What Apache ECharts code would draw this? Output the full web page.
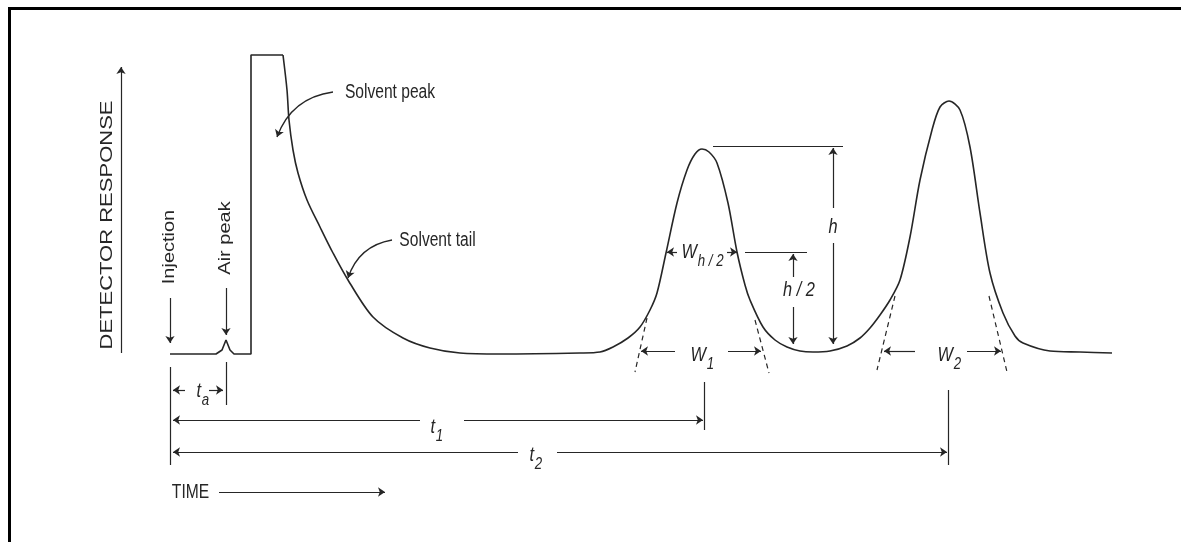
<!DOCTYPE html>
<html>
<head>
<meta charset="utf-8">
<script src="https://cdn.jsdelivr.net/npm/echarts@6/dist/echarts.min.js"></script>
<style>
html, body { margin: 0; padding: 0; background: #fff; }
#chart { width: 1181px; height: 542px; }
</style>
</head>
<body>
<div id="chart"></div>
<script>
// detector trace, [time, response]
const injectionTrace = [[0, 0], [4.6, 0], [5.2, 0.4], [5.6, 1.4], [6.0, 0.4], [6.4, 0],
  [8.1, 0], [8.1, 29.9], [11.3, 29.9]]
const elutionTrace = [[11.3, 29.9], [11.7, 26.4], [11.9, 23.4], [12.3, 20.4], [12.8, 18.1],
  [13.7, 15.4], [15.0, 12.7], [16.3, 10.1], [17.8, 7.4], [20.3, 3.7], [23.3, 1.6], [26, 0.6],
  [29, 0.1], [33, 0], [41, 0.1], [43, 0.2], [44.3, 0.7], [45.8, 1.6], [47, 2.7], [48, 4.4],
  [48.7, 6.1], [49.6, 10.1], [50.7, 15.1], [51.7, 18.4], [52.5, 20.0], [53.2, 20.5], [53.9, 20.2],
  [54.7, 19.1], [55.8, 15.1], [56.7, 10.2], [57.5, 6.9], [58, 5.4], [59.3, 2.7], [60.5, 1.4],
  [61.7, 0.7], [63, 0.3], [64.3, 0.2], [66, 0.3], [67.7, 0.8], [69, 1.6], [70, 2.6], [71, 3.9],
  [72, 5.4], [73, 7.4], [74, 11.7], [75, 17.4], [76.2, 22.4], [77, 24.7], [77.9, 25.3], [79, 24.4],
  [80, 20.7], [81, 14.1], [82, 8.1], [83.3, 4.1], [84.5, 1.8], [85.3, 1.1], [88, 0.3],
  [91, 0.2], [94.2, 0.1]]

// dimension lines with an arrow head at the end
const arrowSegments = [
  [[-4.9, 0.1], [-4.9, 28.7]],     // response axis
  [[4.9, -13.8], [21.5, -13.8]],   // time axis
  [[0, 5.6], [0, 1.1]],            // injection
  [[5.6, 6.6], [5.6, 1.9]],        // air peak
  [[1.5, -3.6], [0.3, -3.6]], [[3.9, -3.6], [5.3, -3.6]],      // ta
  [[25, -6.6], [0.3, -6.6]], [[29.4, -6.6], [53.3, -6.6]],     // t1
  [[34.8, -9.8], [0.3, -9.8]], [[38.7, -9.8], [77.7, -9.8]],   // t2
  [[66.3, 14.6], [66.3, 20.6]], [[66.3, 11.1], [66.3, 1.0]],   // h
  [[62.3, 7.7], [62.3, 10.0]], [[62.3, 4.7], [62.3, 1.0]],     // h/2
  [[50.7, 10.2], [49.7, 10.2]], [[55.7, 10.2], [56.7, 10.2]],  // W h/2
  [[50.5, 0.3], [47.1, 0.3]], [[55.8, 0.3], [59.1, 0.3]],      // W1
  [[74.5, 0.3], [71.4, 0.3]], [[79.7, 0.3], [83.1, 0.3]],      // W2
]
const plainSegments = [
  [[0, -1.3], [0, -11.1]],
  [[5.6, -0.8], [5.6, -5.1]],
  [[53.4, -2.8], [53.4, -7.6]],
  [[77.8, -3.6], [77.8, -11.1]],
  [[54.3, 20.8], [67.3, 20.8]],
  [[57.5, 10.2], [63.7, 10.2]],
]
const tangentSegments = [
  [[47.7, 3.6], [46.5, -1.8]], [[58.5, 3.4], [59.9, -1.9]],
  [[72.5, 5.8], [70.7, -1.6]], [[81.9, 5.8], [83.7, -1.8]],
]
const pointerCurves = [
  [[16.3, 26.2], [10.7, 21.7]],
  [[22.2, 11.4], [17.8, 7.6]],
]

// [text, time, response, rotate]
const captionNotes = [
  ['Solvent peak', 22.0, 26.2, 0],
  ['Solvent tail', 26.75, 11.4, 0],
  ['Injection', 0, 10.7, 90],
  ['Air peak', 5.6, 11.6, 90],
  ['DETECTOR RESPONSE', -6.3, 12.9, 90],
  ['TIME', 2.05, -13.8, 0],
]
// [symbol, subscript, time, response]
const symbolNotes = [
  ['h', '', 66.3, 12.7],
  ['h / 2', '', 62.9, 6.4],
  ['W', 'h / 2', 52.7, 10.2],
  ['W', '1', 53.6, -0.1],
  ['W', '2', 78.3, -0.1],
  ['t', 'a', 3.1, -3.7],
  ['t', '1', 26.5, -7.3],
  ['t', '2', 36.4, -10.1],
]

const ink = '#262626'
const squeeze = 0.78
const chart = echarts.init(document.getElementById('chart'))

chart.setOption({
  animation: false,
  backgroundColor: '#fff',
  grid: { left: 0, right: 0, top: 0, bottom: 0 },
  xAxis: { type: 'value', min: -17, max: 101.1, show: false },
  yAxis: { type: 'value', min: -18.8, max: 35.4, show: false },
  graphic: [
    { type: 'line', shape: { x1: 8, y1: 8.5, x2: 1181, y2: 8.5 }, style: { stroke: '#000', lineWidth: 3 } },
    { type: 'line', shape: { x1: 9.5, y1: 7, x2: 9.5, y2: 542 }, style: { stroke: '#000', lineWidth: 3 } },
  ],
  series: [
    {
      type: 'line',
      data: injectionTrace,
      showSymbol: false,
      lineStyle: { color: ink, width: 1.6 },
    },
    {
      type: 'line',
      data: elutionTrace,
      showSymbol: false,
      smooth: 0.3,
      lineStyle: { color: ink, width: 1.6 },
    },
    {
      type: 'lines',
      coordinateSystem: 'cartesian2d',
      symbol: ['none', 'arrow'],
      symbolSize: 7,
      lineStyle: { color: ink, width: 1.2, opacity: 1 },
      data: arrowSegments.map(c => ({ coords: c })),
    },
    {
      type: 'lines',
      coordinateSystem: 'cartesian2d',
      lineStyle: { color: ink, width: 1.2, opacity: 1 },
      data: plainSegments.map(c => ({ coords: c })),
    },
    {
      type: 'lines',
      coordinateSystem: 'cartesian2d',
      lineStyle: { color: ink, width: 1.2, opacity: 1, type: [5, 4] },
      data: tangentSegments.map(c => ({ coords: c })),
    },
    {
      type: 'lines',
      coordinateSystem: 'cartesian2d',
      symbol: ['none', 'arrow'],
      symbolSize: 7,
      lineStyle: { color: ink, width: 1.3, opacity: 1, curveness: -0.3 },
      data: pointerCurves.map(c => ({ coords: c })),
    },
    {
      type: 'custom',
      coordinateSystem: 'cartesian2d',
      data: captionNotes.map(n => [n[1], n[2]]),
      renderItem(params, api) {
        const note = captionNotes[params.dataIndex]
        const p = api.coord([api.value(0), api.value(1)])
        const upright = note[3] !== 0
        return {
          type: 'text',
          x: p[0],
          y: p[1],
          rotation: note[3] * Math.PI / 180,
          scaleX: upright ? 1 : squeeze,
          scaleY: upright ? squeeze : 1,
          style: {
            text: note[0],
            font: (note[0] === 'DETECTOR RESPONSE' ? 22 : 20) + 'px "Liberation Sans", Arial, sans-serif',
            fill: ink,
            align: 'center',
            verticalAlign: 'middle',
          },
        }
      },
    },
    {
      type: 'custom',
      coordinateSystem: 'cartesian2d',
      data: symbolNotes.map(n => [n[2], n[3]]),
      renderItem(params, api) {
        const note = symbolNotes[params.dataIndex]
        const p = api.coord([api.value(0), api.value(1)])
        const children = [{
          type: 'text',
          style: {
            text: note[0],
            font: 'italic 21px "Liberation Sans", Arial, sans-serif',
            fill: ink,
            align: note[1] ? 'right' : 'center',
            verticalAlign: 'middle',
          },
        }]
        if (note[1]) {
          children.push({
            type: 'text',
            x: 1,
            y: 9,
            style: {
              text: note[1],
              font: 'italic 17px "Liberation Sans", Arial, sans-serif',
              fill: ink,
              align: 'left',
              verticalAlign: 'middle',
            },
          })
        }
        return { type: 'group', x: p[0], y: p[1], scaleX: squeeze, children }
      },
    },
  ],
})
</script>
</body>
</html>
